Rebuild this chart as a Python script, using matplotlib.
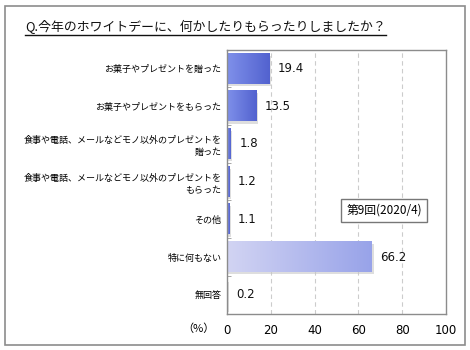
import matplotlib
matplotlib.use("Agg")
import matplotlib.pyplot as plt
import numpy as np
from matplotlib.colors import LinearSegmentedColormap
from matplotlib.patches import Rectangle

plt.rcParams['font.family'] = ['Noto Sans CJK JP', 'DejaVu Sans']

title = "Q.今年のホワイトデーに、何かしたりもらったりしましたか？"
categories = [
    "お菓子やプレゼントを贈った",
    "お菓子やプレゼントをもらった",
    "食事や電話、メールなどモノ以外のプレゼントを\n贈った",
    "食事や電話、メールなどモノ以外のプレゼントを\nもらった",
    "その他",
    "特に何もない",
    "無回答",
]
values = [19.4, 13.5, 1.8, 1.2, 1.1, 66.2, 0.2]
series_name = "第9回(2020/4)"
xticks = [0, 20, 40, 60, 80, 100]
unit_label = "（%）"

W, H = 470, 350
fig = plt.figure(figsize=(W / 100, H / 100), dpi=100)

# outer frame
fig.add_artist(Rectangle((5 / W, 5 / H), 460 / W, 339 / H, transform=fig.transFigure,
                         fill=False, edgecolor='#8c8c8c', linewidth=1.2))

# title
t = fig.text(25 / W, 1 - 27 / H, title, fontsize=9.25, va='center', ha='left', color='#111111')
fig.canvas.draw()
bb = t.get_window_extent()
fig.add_artist(plt.Line2D([bb.x0 / W, bb.x1 / W], [1 - 35 / H, 1 - 35 / H],
                          transform=fig.transFigure, color='#111111', linewidth=1.0))

left, right, top, bottom = 227, 446, 49.6, 313.6
ax = fig.add_axes([left / W, 1 - bottom / H, (right - left) / W, (bottom - top) / H])
n = len(categories)
ax.set_xlim(0, 100)
ax.set_ylim(n - 0.5, -0.5)

for x in xticks[1:-1]:
    ax.axvline(x, color='#cccccc', linestyle=(0, (4, 3)), linewidth=0.8, zorder=0)

bh = 0.8
for i, v in enumerate(values):
    if i == 5:
        c0, c1 = '#d2d4f3', '#98a3e9'
    else:
        c0, c1 = '#7f90ea', '#5262cf'
    # shadow
    ax.add_patch(Rectangle((0, i - bh / 2 + 0.06), v + 0.7, bh, facecolor='#c8c8c8',
                           edgecolor='none', alpha=0.6, zorder=1))
    cmap = LinearSegmentedColormap.from_list('g', [c0, c1])
    grad = np.linspace(0, 1, 256).reshape(1, -1)
    ax.imshow(grad, cmap=cmap, aspect='auto', extent=(0, v, i + bh / 2, i - bh / 2),
              zorder=2, interpolation='bilinear')
    ax.text(v + 3.8, i, f"{v:.1f}", va='center', ha='left', fontsize=8.5,
            family='DejaVu Sans', color='#111111', zorder=3)

ax.set_xlim(0, 100)
ax.set_ylim(n - 0.5, -0.5)

ax.set_yticks(range(n))
ax.set_yticklabels(categories, fontsize=6.5, linespacing=1.5)
ax.tick_params(axis='y', length=0, pad=4)
ax.set_yticks(np.arange(0.5, n - 0.5, 1), minor=True)
ax.tick_params(axis='y', which='minor', length=3, direction='in', color='#999999')
ax.set_xticks(xticks)
ax.set_xticklabels([str(x) for x in xticks], fontsize=8.5, family='DejaVu Sans')
ax.tick_params(axis='x', length=0, pad=7.5)
for s in ax.spines.values():
    s.set_color('#8c8c8c')
    s.set_linewidth(1.0)

fig.text(198 / W, 1 - 329 / H, unit_label, fontsize=8, ha='center', va='center')

# series box
fig.text(384 / W, 1 - 210.5 / H, series_name, fontsize=8.5, ha='center', va='center',
         bbox=dict(boxstyle='square,pad=0.45', facecolor='white', edgecolor='#777777',
                   linewidth=1.0))

fig.savefig('out.png', dpi=100)
